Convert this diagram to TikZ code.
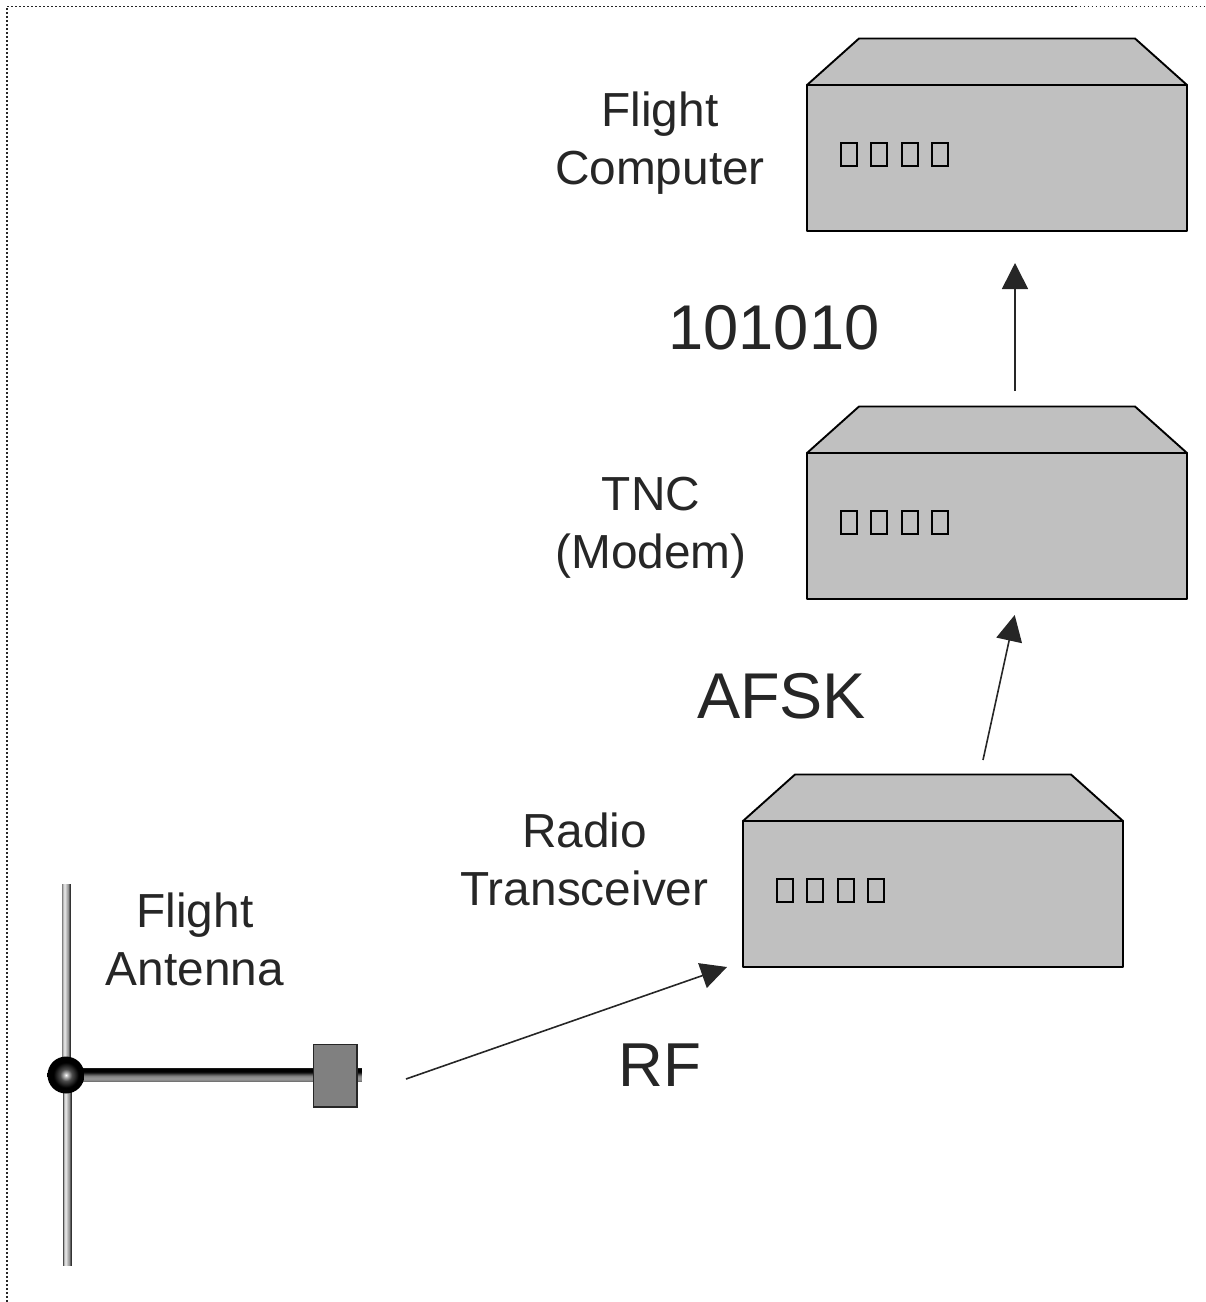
\documentclass[tikz,border=0pt]{standalone}
\usepackage{fontspec}
\setmainfont{Liberation Sans}
\usetikzlibrary{arrows.meta}
\definecolor{ink}{HTML}{262626}
\definecolor{boxgray}{HTML}{C0C0C0}
\definecolor{plugray}{HTML}{808080}
\pgfdeclareradialshading{knob}{\pgfpointorigin}{color(0bp)=(white); color(3bp)=(white!70!black); color(8bp)=(white!30!black); color(17bp)=(black); color(50bp)=(black)}
\tikzset{
  x=1pt,y=-1pt,
  body/.style={draw=black,line width=1.9pt,line join=round},
  led/.style={draw=black,line width=1.6pt},
  flow/.style={draw=ink,line width=1.6pt,-{Triangle[length=26pt,width=26pt]},color=ink},
  lab/.style={font=\fontsize{47.8}{58}\selectfont,text=ink,align=center,inner sep=0pt},
  sig/.style={font=\fontsize{62}{70}\selectfont,text=ink,inner sep=0pt},
  frame/.style={draw=ink,line width=1.8pt,dash pattern=on 1.8pt off 2.2pt},
  pics/radio/.style={code={
    \fill[boxgray] (0,47) -- (52,0.5) -- (328,0.5) -- (380,47) -- (380,193) -- (0,193) -- cycle;
    \draw[body] (0,47) -- (52,0.5) -- (328,0.5) -- (380,47) -- cycle;
    \draw[body] (0,47) rectangle (380,193);
    \draw[led] (34.2,105.2) rectangle (49.8,127.8);
    \draw[led] (64.2,105.2) rectangle (79.8,127.8);
    \draw[led] (95.2,105.2) rectangle (110.8,127.8);
    \draw[led] (125.2,105.2) rectangle (140.8,127.8);
  }}
}
\begin{document}
\begin{tikzpicture}
\useasboundingbox (0,0) rectangle (1206,1302);
% frame
\coordinate (fa) at (7,1302);
\coordinate (fb) at (7,6.5);
\coordinate (fc) at (1206,6.5);
\draw[frame] (fa) -- (fb) -- (fc);
% boxes
\pic at (807,38) {radio};
\pic at (807,406) {radio};
\pic at (743,774) {radio};
% antenna: vertical rod
\foreach \i/\c in {0/50,1/28,2/14,3/12,4/22,5/32,6/40,7/62,8/80}{
  \draw[black!\c,line width=1.15pt] (62.5+\i,884) -- (62.5+\i,1075);
}
\foreach \i/\c in {0/70,1/30,2/14,3/12,4/22,5/32,6/40,7/62,8/80}{
  \draw[black!\c,line width=1.15pt] (63.5+\i,1075) -- (63.5+\i,1266);
}
% antenna: horizontal rod
\foreach \i/\c in {0/90,1/100,2/100,3/100,4/96,5/86,6/72,7/60,8/50,9/45,10/42,11/42,12/46,13/55}{
  \draw[black!\c,line width=1.15pt] (82,1068.7+\i) -- (362,1068.7+\i);
}
\shade[shading=knob] (66,1075) circle (18.5);
\node[draw=black!85,line width=1.4pt,fill=plugray,minimum width=43.5pt,minimum height=62.5pt,inner sep=0pt] (plug) at (335.2,1075.7) {};
% labels
\node[lab] (lc) at (660,143) {Flight\\Computer};
\node[lab] (lt) at (651,528) {TNC\\(Modem)};
\node[lab] (lr) at (584.5,859) {Radio\\Transceiver};
\node[lab] (la) at (195,939) {Flight\\Antenna};
\node[sig,font=\fontsize{63.2}{70}\selectfont] (s1) at (774,328) {101010};
\node[sig,font=\fontsize{64.7}{70}\selectfont] (s2) at (781.5,696) {AFSK};
\node[sig] (s3) at (660,1065) {RF};
% connectors
\coordinate (a1) at (406,1079);
\coordinate (a2) at (727,967);
\coordinate (b1) at (983,760);
\coordinate (b2) at (1014.7,615);
\coordinate (c1) at (1015,391);
\coordinate (c2) at (1015,263);
\draw[flow] (a1) -- (a2);
\draw[flow] (b1) -- (b2);
\draw[flow] (c1) -- (c2);
\end{tikzpicture}
\end{document}
